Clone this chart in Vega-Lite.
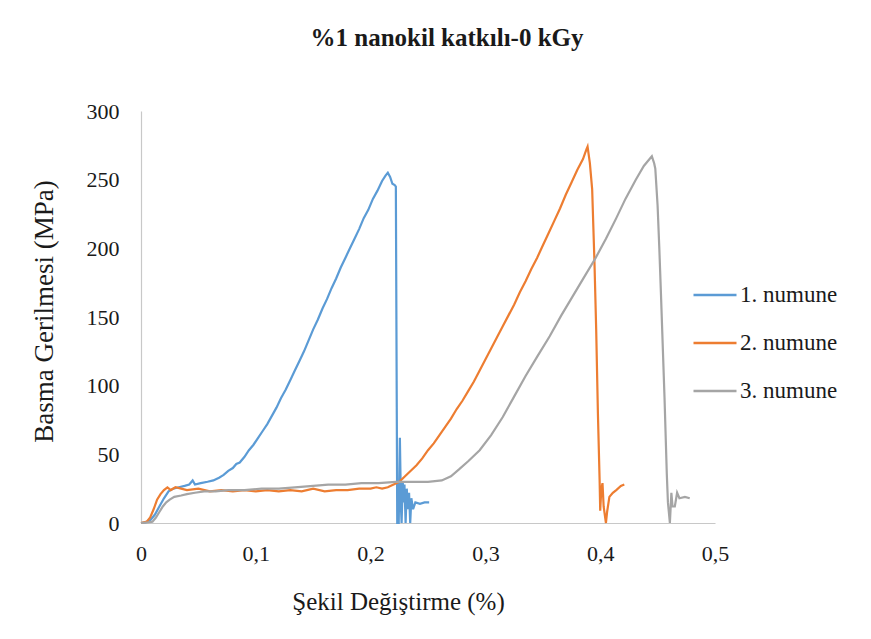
{
  "$schema": "https://vega.github.io/schema/vega-lite/v6.json",
  "width": 574,
  "height": 412,
  "autosize": {"type": "none"},
  "padding": {"left": 141, "top": 111, "right": 156, "bottom": 116},
  "background": "white",
  "title": {
    "text": "%1 nanokil katkılı-0 kGy",
    "font": "Liberation Serif, Times New Roman, serif",
    "fontSize": 25,
    "fontWeight": "bold",
    "color": "#1a1a1a",
    "anchor": "middle",
    "frame": "group",
    "dx": 19,
    "offset": 49
  },
  "config": {
    "view": {"stroke": null},
    "font": "Liberation Serif, Times New Roman, serif"
  },
  "data": {
    "values": [
      {"s": "1. numune", "x": 0, "y": 0},
      {"s": "1. numune", "x": 0.004, "y": 0.5},
      {"s": "1. numune", "x": 0.008, "y": 2},
      {"s": "1. numune", "x": 0.012, "y": 6},
      {"s": "1. numune", "x": 0.016, "y": 12},
      {"s": "1. numune", "x": 0.02, "y": 18},
      {"s": "1. numune", "x": 0.024, "y": 23},
      {"s": "1. numune", "x": 0.028, "y": 25},
      {"s": "1. numune", "x": 0.033, "y": 26},
      {"s": "1. numune", "x": 0.038, "y": 27},
      {"s": "1. numune", "x": 0.042, "y": 28},
      {"s": "1. numune", "x": 0.045, "y": 31},
      {"s": "1. numune", "x": 0.047, "y": 28},
      {"s": "1. numune", "x": 0.052, "y": 29},
      {"s": "1. numune", "x": 0.058, "y": 30},
      {"s": "1. numune", "x": 0.063, "y": 31},
      {"s": "1. numune", "x": 0.068, "y": 33},
      {"s": "1. numune", "x": 0.072, "y": 35},
      {"s": "1. numune", "x": 0.076, "y": 38},
      {"s": "1. numune", "x": 0.08, "y": 40},
      {"s": "1. numune", "x": 0.083, "y": 43},
      {"s": "1. numune", "x": 0.086, "y": 44},
      {"s": "1. numune", "x": 0.09, "y": 48},
      {"s": "1. numune", "x": 0.094, "y": 53},
      {"s": "1. numune", "x": 0.098, "y": 57},
      {"s": "1. numune", "x": 0.102, "y": 62},
      {"s": "1. numune", "x": 0.106, "y": 67},
      {"s": "1. numune", "x": 0.11, "y": 72},
      {"s": "1. numune", "x": 0.114, "y": 78},
      {"s": "1. numune", "x": 0.118, "y": 84},
      {"s": "1. numune", "x": 0.122, "y": 91},
      {"s": "1. numune", "x": 0.126, "y": 97},
      {"s": "1. numune", "x": 0.13, "y": 104},
      {"s": "1. numune", "x": 0.134, "y": 111},
      {"s": "1. numune", "x": 0.138, "y": 118},
      {"s": "1. numune", "x": 0.142, "y": 125},
      {"s": "1. numune", "x": 0.146, "y": 133},
      {"s": "1. numune", "x": 0.15, "y": 141},
      {"s": "1. numune", "x": 0.154, "y": 148},
      {"s": "1. numune", "x": 0.158, "y": 156},
      {"s": "1. numune", "x": 0.162, "y": 163},
      {"s": "1. numune", "x": 0.166, "y": 171},
      {"s": "1. numune", "x": 0.17, "y": 178},
      {"s": "1. numune", "x": 0.174, "y": 186},
      {"s": "1. numune", "x": 0.178, "y": 193},
      {"s": "1. numune", "x": 0.182, "y": 200},
      {"s": "1. numune", "x": 0.186, "y": 207},
      {"s": "1. numune", "x": 0.19, "y": 214},
      {"s": "1. numune", "x": 0.194, "y": 222},
      {"s": "1. numune", "x": 0.198, "y": 228},
      {"s": "1. numune", "x": 0.202, "y": 236},
      {"s": "1. numune", "x": 0.206, "y": 242},
      {"s": "1. numune", "x": 0.21, "y": 249},
      {"s": "1. numune", "x": 0.213, "y": 253},
      {"s": "1. numune", "x": 0.215, "y": 255},
      {"s": "1. numune", "x": 0.217, "y": 252},
      {"s": "1. numune", "x": 0.219, "y": 247},
      {"s": "1. numune", "x": 0.221, "y": 246},
      {"s": "1. numune", "x": 0.222, "y": 245},
      {"s": "1. numune", "x": 0.2232, "y": 0},
      {"s": "1. numune", "x": 0.2245, "y": 0},
      {"s": "1. numune", "x": 0.2255, "y": 62},
      {"s": "1. numune", "x": 0.2265, "y": 10},
      {"s": "1. numune", "x": 0.227, "y": 0},
      {"s": "1. numune", "x": 0.228, "y": 30},
      {"s": "1. numune", "x": 0.229, "y": 15},
      {"s": "1. numune", "x": 0.2295, "y": 28},
      {"s": "1. numune", "x": 0.2305, "y": 0},
      {"s": "1. numune", "x": 0.2315, "y": 25},
      {"s": "1. numune", "x": 0.2325, "y": 10},
      {"s": "1. numune", "x": 0.2335, "y": 22},
      {"s": "1. numune", "x": 0.2345, "y": 0},
      {"s": "1. numune", "x": 0.2355, "y": 18},
      {"s": "1. numune", "x": 0.237, "y": 10},
      {"s": "1. numune", "x": 0.239, "y": 15},
      {"s": "1. numune", "x": 0.243, "y": 14},
      {"s": "1. numune", "x": 0.247, "y": 15},
      {"s": "1. numune", "x": 0.251, "y": 15},
      {"s": "2. numune", "x": 0, "y": 0},
      {"s": "2. numune", "x": 0.005, "y": 1},
      {"s": "2. numune", "x": 0.008, "y": 4},
      {"s": "2. numune", "x": 0.011, "y": 10},
      {"s": "2. numune", "x": 0.014, "y": 17},
      {"s": "2. numune", "x": 0.017, "y": 21},
      {"s": "2. numune", "x": 0.02, "y": 24},
      {"s": "2. numune", "x": 0.023, "y": 26},
      {"s": "2. numune", "x": 0.026, "y": 24},
      {"s": "2. numune", "x": 0.03, "y": 26},
      {"s": "2. numune", "x": 0.035, "y": 25},
      {"s": "2. numune", "x": 0.04, "y": 24},
      {"s": "2. numune", "x": 0.05, "y": 25},
      {"s": "2. numune", "x": 0.06, "y": 23},
      {"s": "2. numune", "x": 0.07, "y": 24},
      {"s": "2. numune", "x": 0.08, "y": 23},
      {"s": "2. numune", "x": 0.09, "y": 24},
      {"s": "2. numune", "x": 0.1, "y": 23},
      {"s": "2. numune", "x": 0.11, "y": 24},
      {"s": "2. numune", "x": 0.12, "y": 23},
      {"s": "2. numune", "x": 0.13, "y": 24},
      {"s": "2. numune", "x": 0.14, "y": 23},
      {"s": "2. numune", "x": 0.15, "y": 25},
      {"s": "2. numune", "x": 0.16, "y": 23},
      {"s": "2. numune", "x": 0.17, "y": 24},
      {"s": "2. numune", "x": 0.18, "y": 24},
      {"s": "2. numune", "x": 0.19, "y": 25},
      {"s": "2. numune", "x": 0.2, "y": 25},
      {"s": "2. numune", "x": 0.205, "y": 26},
      {"s": "2. numune", "x": 0.21, "y": 25},
      {"s": "2. numune", "x": 0.215, "y": 26},
      {"s": "2. numune", "x": 0.22, "y": 28},
      {"s": "2. numune", "x": 0.225, "y": 30},
      {"s": "2. numune", "x": 0.23, "y": 34},
      {"s": "2. numune", "x": 0.235, "y": 38},
      {"s": "2. numune", "x": 0.24, "y": 42},
      {"s": "2. numune", "x": 0.245, "y": 47},
      {"s": "2. numune", "x": 0.25, "y": 53},
      {"s": "2. numune", "x": 0.255, "y": 58},
      {"s": "2. numune", "x": 0.26, "y": 64},
      {"s": "2. numune", "x": 0.265, "y": 70},
      {"s": "2. numune", "x": 0.27, "y": 76},
      {"s": "2. numune", "x": 0.275, "y": 83},
      {"s": "2. numune", "x": 0.28, "y": 89},
      {"s": "2. numune", "x": 0.285, "y": 96},
      {"s": "2. numune", "x": 0.29, "y": 103},
      {"s": "2. numune", "x": 0.295, "y": 111},
      {"s": "2. numune", "x": 0.3, "y": 119},
      {"s": "2. numune", "x": 0.305, "y": 127},
      {"s": "2. numune", "x": 0.31, "y": 135},
      {"s": "2. numune", "x": 0.315, "y": 143},
      {"s": "2. numune", "x": 0.32, "y": 151},
      {"s": "2. numune", "x": 0.325, "y": 159},
      {"s": "2. numune", "x": 0.33, "y": 168},
      {"s": "2. numune", "x": 0.335, "y": 176},
      {"s": "2. numune", "x": 0.34, "y": 185},
      {"s": "2. numune", "x": 0.345, "y": 193},
      {"s": "2. numune", "x": 0.35, "y": 202},
      {"s": "2. numune", "x": 0.355, "y": 211},
      {"s": "2. numune", "x": 0.36, "y": 220},
      {"s": "2. numune", "x": 0.365, "y": 229},
      {"s": "2. numune", "x": 0.37, "y": 239},
      {"s": "2. numune", "x": 0.375, "y": 248},
      {"s": "2. numune", "x": 0.38, "y": 257},
      {"s": "2. numune", "x": 0.385, "y": 265},
      {"s": "2. numune", "x": 0.388, "y": 272},
      {"s": "2. numune", "x": 0.389, "y": 274},
      {"s": "2. numune", "x": 0.391, "y": 262},
      {"s": "2. numune", "x": 0.393, "y": 243},
      {"s": "2. numune", "x": 0.395, "y": 190},
      {"s": "2. numune", "x": 0.3965, "y": 141},
      {"s": "2. numune", "x": 0.398, "y": 80},
      {"s": "2. numune", "x": 0.3995, "y": 31},
      {"s": "2. numune", "x": 0.4, "y": 9},
      {"s": "2. numune", "x": 0.401, "y": 25},
      {"s": "2. numune", "x": 0.402, "y": 29},
      {"s": "2. numune", "x": 0.403, "y": 12},
      {"s": "2. numune", "x": 0.405, "y": 0},
      {"s": "2. numune", "x": 0.406, "y": 8},
      {"s": "2. numune", "x": 0.408, "y": 19},
      {"s": "2. numune", "x": 0.411, "y": 22},
      {"s": "2. numune", "x": 0.414, "y": 24},
      {"s": "2. numune", "x": 0.418, "y": 27},
      {"s": "2. numune", "x": 0.421, "y": 28},
      {"s": "3. numune", "x": 0, "y": 0},
      {"s": "3. numune", "x": 0.006, "y": 0.5},
      {"s": "3. numune", "x": 0.01, "y": 1},
      {"s": "3. numune", "x": 0.013, "y": 4},
      {"s": "3. numune", "x": 0.016, "y": 8},
      {"s": "3. numune", "x": 0.019, "y": 12},
      {"s": "3. numune", "x": 0.022, "y": 15},
      {"s": "3. numune", "x": 0.025, "y": 17},
      {"s": "3. numune", "x": 0.029, "y": 19},
      {"s": "3. numune", "x": 0.035, "y": 20},
      {"s": "3. numune", "x": 0.04, "y": 21},
      {"s": "3. numune", "x": 0.047, "y": 22},
      {"s": "3. numune", "x": 0.055, "y": 23},
      {"s": "3. numune", "x": 0.065, "y": 23},
      {"s": "3. numune", "x": 0.076, "y": 24},
      {"s": "3. numune", "x": 0.09, "y": 24},
      {"s": "3. numune", "x": 0.105, "y": 25},
      {"s": "3. numune", "x": 0.12, "y": 25},
      {"s": "3. numune", "x": 0.134, "y": 26},
      {"s": "3. numune", "x": 0.15, "y": 27},
      {"s": "3. numune", "x": 0.163, "y": 28},
      {"s": "3. numune", "x": 0.178, "y": 28},
      {"s": "3. numune", "x": 0.192, "y": 29},
      {"s": "3. numune", "x": 0.207, "y": 29},
      {"s": "3. numune", "x": 0.222, "y": 30},
      {"s": "3. numune", "x": 0.235, "y": 30},
      {"s": "3. numune", "x": 0.25, "y": 30},
      {"s": "3. numune", "x": 0.262, "y": 31},
      {"s": "3. numune", "x": 0.27, "y": 34},
      {"s": "3. numune", "x": 0.277, "y": 39},
      {"s": "3. numune", "x": 0.285, "y": 45},
      {"s": "3. numune", "x": 0.295, "y": 53},
      {"s": "3. numune", "x": 0.305, "y": 64},
      {"s": "3. numune", "x": 0.315, "y": 77},
      {"s": "3. numune", "x": 0.325, "y": 92},
      {"s": "3. numune", "x": 0.335, "y": 107},
      {"s": "3. numune", "x": 0.345, "y": 121},
      {"s": "3. numune", "x": 0.356, "y": 136},
      {"s": "3. numune", "x": 0.366, "y": 151},
      {"s": "3. numune", "x": 0.376, "y": 165},
      {"s": "3. numune", "x": 0.386, "y": 179},
      {"s": "3. numune", "x": 0.396, "y": 193},
      {"s": "3. numune", "x": 0.405, "y": 207},
      {"s": "3. numune", "x": 0.414, "y": 222},
      {"s": "3. numune", "x": 0.422, "y": 236},
      {"s": "3. numune", "x": 0.431, "y": 250},
      {"s": "3. numune", "x": 0.438, "y": 260},
      {"s": "3. numune", "x": 0.443, "y": 265},
      {"s": "3. numune", "x": 0.445, "y": 267},
      {"s": "3. numune", "x": 0.447, "y": 262},
      {"s": "3. numune", "x": 0.448, "y": 258},
      {"s": "3. numune", "x": 0.45, "y": 231},
      {"s": "3. numune", "x": 0.4515, "y": 200},
      {"s": "3. numune", "x": 0.453, "y": 165},
      {"s": "3. numune", "x": 0.456, "y": 92},
      {"s": "3. numune", "x": 0.458, "y": 36},
      {"s": "3. numune", "x": 0.459, "y": 15},
      {"s": "3. numune", "x": 0.4607, "y": 0},
      {"s": "3. numune", "x": 0.462, "y": 22},
      {"s": "3. numune", "x": 0.463, "y": 12},
      {"s": "3. numune", "x": 0.465, "y": 12},
      {"s": "3. numune", "x": 0.467, "y": 22},
      {"s": "3. numune", "x": 0.469, "y": 18},
      {"s": "3. numune", "x": 0.4738, "y": 19},
      {"s": "3. numune", "x": 0.478, "y": 18}
    ]
  },
  "mark": {"type": "line", "strokeWidth": 2.2, "interpolate": "linear"},
  "encoding": {
    "x": {
      "field": "x",
      "type": "quantitative",
      "scale": {"domain": [0, 0.5], "nice": false, "zero": true},
      "axis": {
        "title": "Şekil Değiştirme (%)",
        "values": [0, 0.1, 0.2, 0.3, 0.4, 0.5],
        "labelExpr": "datum.value == 0 ? '0' : replace(format(datum.value, '.1f'), '.', ',')",
        "grid": false,
        "ticks": false,
        "domainColor": "#c8c8c8",
        "domainWidth": 1.2,
        "labelFont": "Liberation Serif, Times New Roman, serif",
        "labelFontSize": 22,
        "labelColor": "#1a1a1a",
        "labelPadding": 20,
        "labelFlush": false,
        "titleFont": "Liberation Serif, Times New Roman, serif",
        "titleFontSize": 25,
        "titleFontWeight": "normal",
        "titleColor": "#1a1a1a",
        "titlePadding": 25,
        "titleX": 257
      }
    },
    "y": {
      "field": "y",
      "type": "quantitative",
      "scale": {"domain": [0, 300], "nice": false},
      "axis": {
        "title": "Basma Gerilmesi (MPa)",
        "values": [0, 50, 100, 150, 200, 250, 300],
        "grid": false,
        "ticks": false,
        "domainColor": "#c8c8c8",
        "domainWidth": 1.2,
        "labelFont": "Liberation Serif, Times New Roman, serif",
        "labelFontSize": 22,
        "labelColor": "#1a1a1a",
        "labelPadding": 22,
        "labelFlush": false,
        "titleFont": "Liberation Serif, Times New Roman, serif",
        "titleFontSize": 27,
        "titleFontWeight": "normal",
        "titleColor": "#1a1a1a",
        "titlePadding": 28,
        "titleY": 200
      }
    },
    "color": {
      "field": "s",
      "type": "nominal",
      "scale": {
        "domain": ["1. numune", "2. numune", "3. numune"],
        "range": ["#5B9BD5", "#ED7D31", "#A5A5A5"]
      },
      "legend": {
        "title": null,
        "orient": "none",
        "legendX": 551,
        "legendY": 161,
        "symbolType": "stroke",
        "symbolSize": 1850,
        "symbolStrokeWidth": 2.5,
        "labelFont": "Liberation Serif, Times New Roman, serif",
        "labelFontSize": 23,
        "labelColor": "#1a1a1a",
        "labelOffset": 2,
        "rowPadding": 13,
        "padding": 0
      }
    }
  }
}
